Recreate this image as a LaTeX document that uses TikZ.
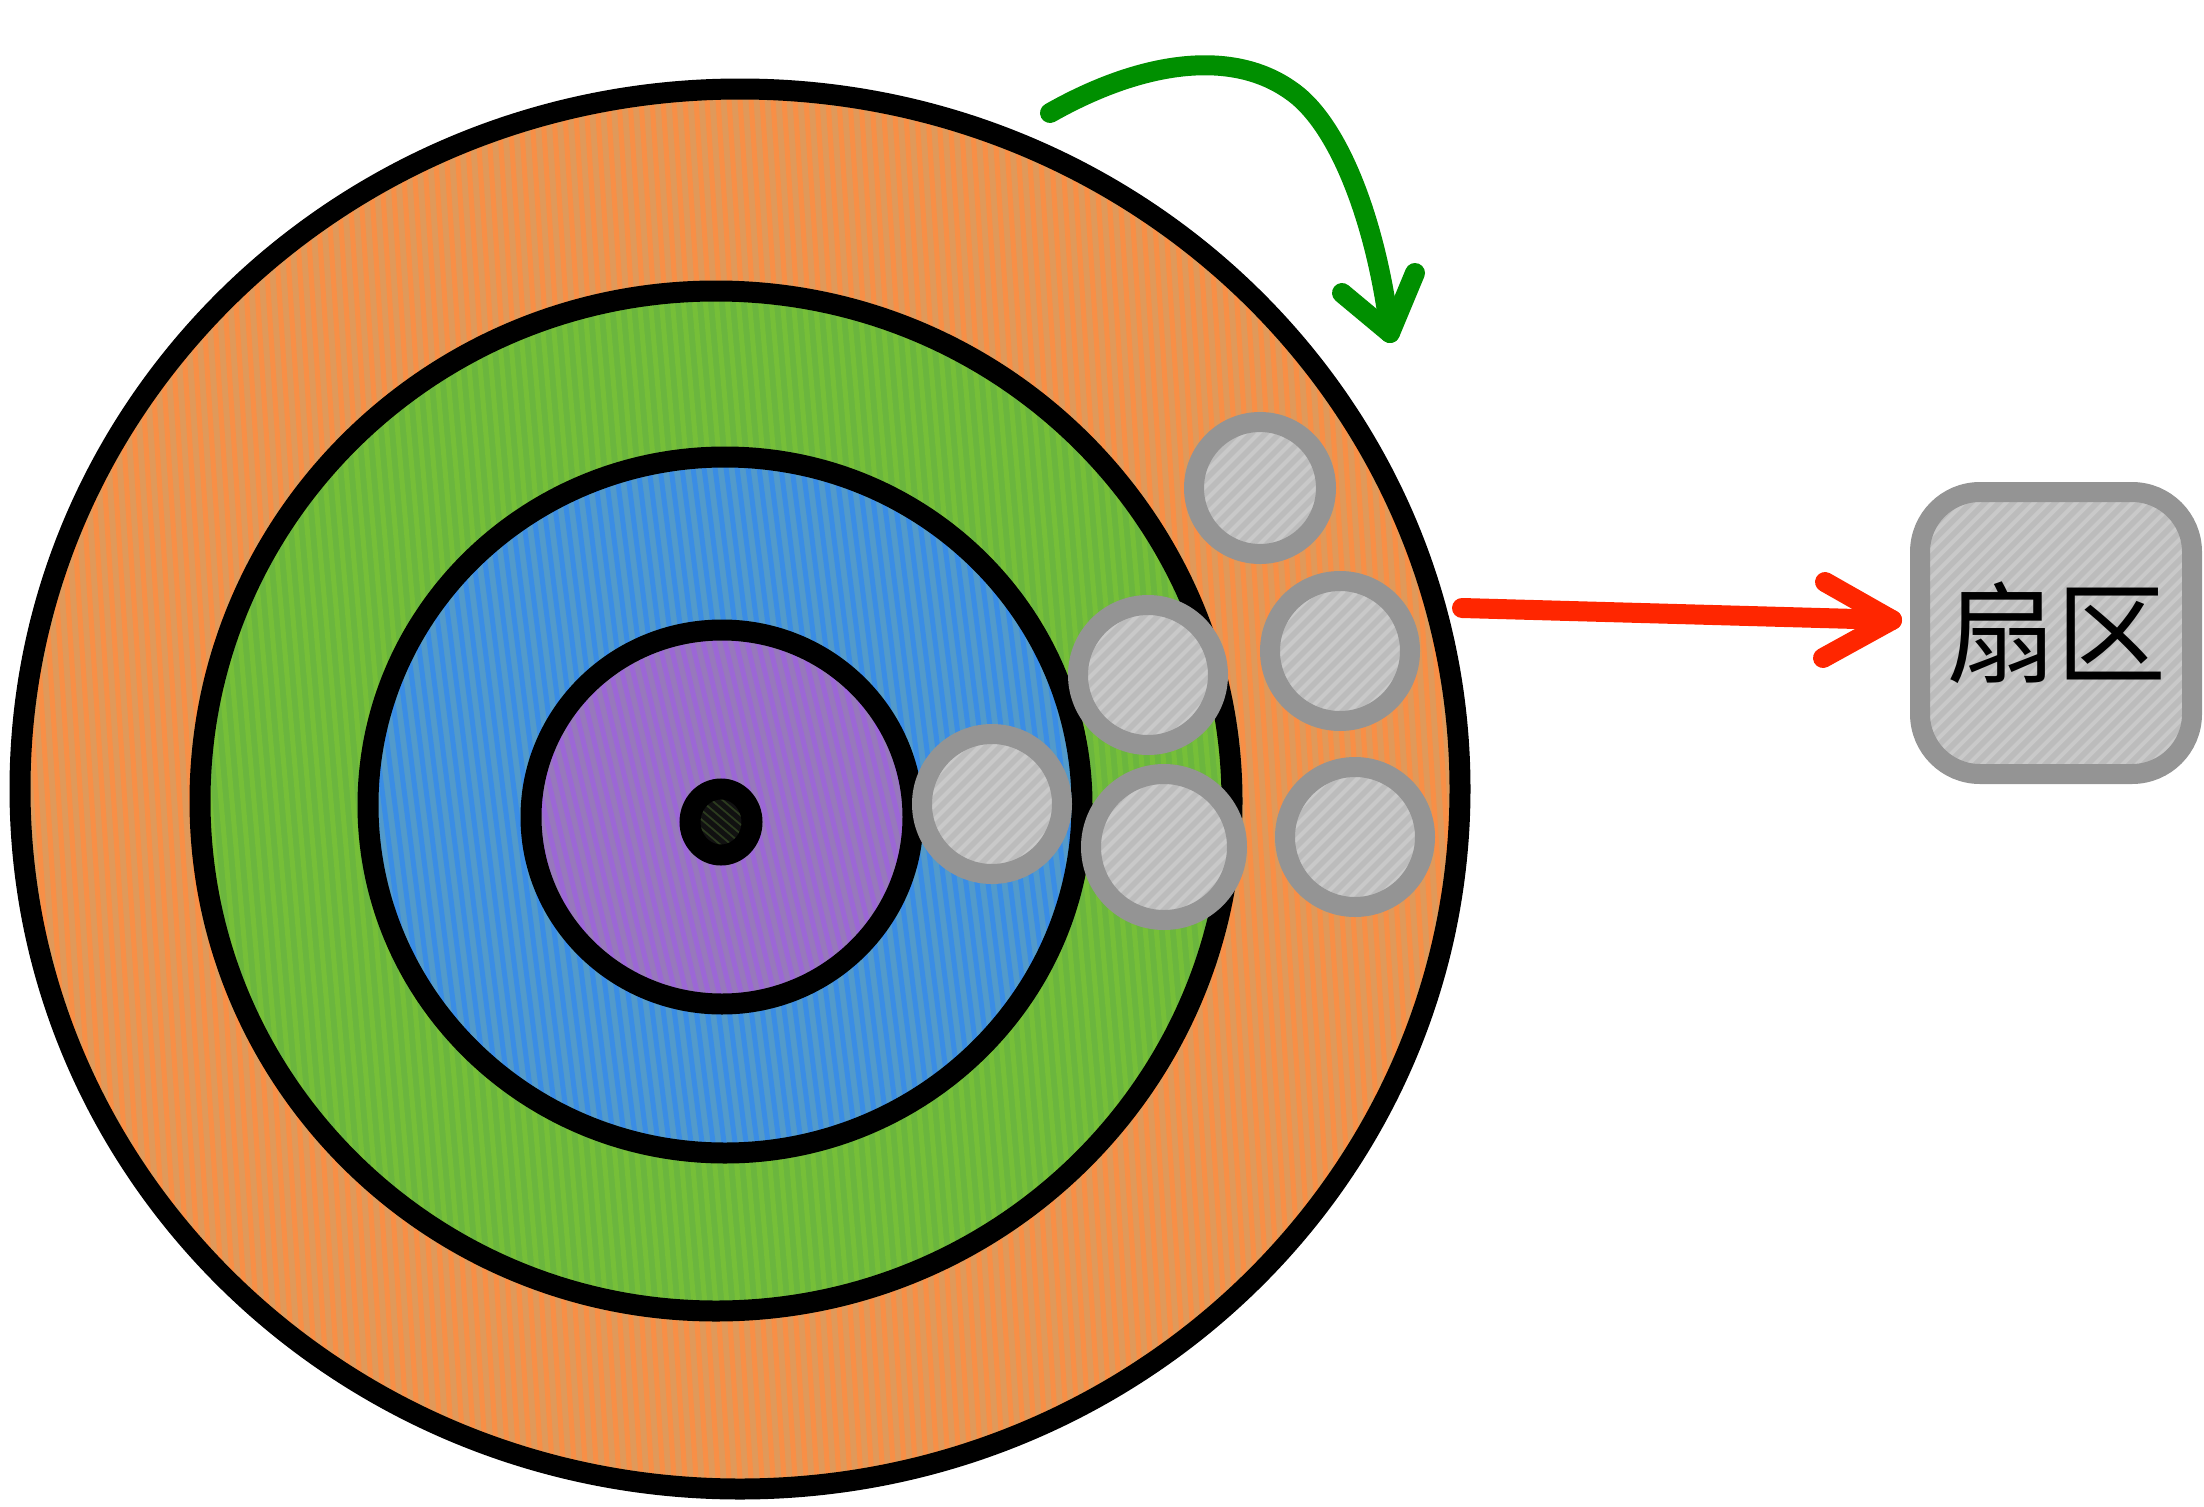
\documentclass[tikz,border=0pt]{standalone}
\usepackage{fontspec}
\newfontfamily\cjk{Noto Sans CJK SC}
\usetikzlibrary{calc}
\definecolor{orA}{HTML}{E0995A}
\definecolor{orB}{HTML}{F88F46}
\definecolor{grA}{HTML}{6BB63E}
\definecolor{grB}{HTML}{76BF38}
\definecolor{blA}{HTML}{529ACB}
\definecolor{blB}{HTML}{3A8DE5}
\definecolor{puA}{HTML}{9778BC}
\definecolor{puB}{HTML}{9C67D6}
\definecolor{ceA}{HTML}{2C3B1F}
\definecolor{ceB}{HTML}{111111}
\definecolor{gyLine}{HTML}{949494}
\definecolor{gyFill}{HTML}{BCBCBC}
\definecolor{gyStripe}{HTML}{C9C9C9}
\definecolor{arrGreen}{HTML}{008F00}
\definecolor{arrRed}{HTML}{FF2600}
\newcommand\hatchell[6]{%
  \begin{scope}
    \clip (#1,#2) ellipse [x radius=#3, y radius=#4];
    \fill[#5] (#1,#2) ellipse [x radius=#3, y radius=#4];
    \begin{scope}[shift={(#1,#2)}]
      \pgfmathtruncatemacro\nn{#3/11+6}
      \foreach \i in {-\nn,...,\nn}
        \draw[#6, line width=5] ({\i*11-45},{-#4-5}) -- ({\i*11+45},{#4+5});
    \end{scope}
  \end{scope}
  \draw[ringline] (#1,#2) ellipse [x radius=#3, y radius=#4];}
\begin{document}
\begin{tikzpicture}[x=1pt,y=-1pt,
  ringline/.style={draw=black, line width=21},
  grayhatch/.style={path picture={
      \begin{scope}[shift={(path picture bounding box.center)}]
        \foreach \i in {-30,...,30}
          \draw[gyStripe, line width=4] ({\i*14-220},220) -- ++(440,-440);
      \end{scope}}},
  sector/.style={circle, draw=gyLine, line width=20, inner sep=0,
      preaction={fill=gyFill, grayhatch}},
  arrowline/.style={line width=20, line cap=round, line join=round}
]
\useasboundingbox (0,0) rectangle (2204,1507);

% rings
\hatchell{740}{789}{720}{700}{orA}{orB}
\hatchell{716}{801}{516}{510}{grA}{grB}
\hatchell{725}{805}{357}{348}{blA}{blB}
\hatchell{722}{817}{191}{187}{puA}{puB}
\hatchell{721}{822}{31}{33}{ceA}{ceB}

% sectors
\node[sector, minimum size=132] (s1) at (1260,488) {};
\node[sector, minimum size=140] (s2) at (1148,675) {};
\node[sector, minimum size=140] (s3) at (1340,651) {};
\node[sector, minimum size=140] (s4) at (992,804) {};
\node[sector, minimum size=146] (s5) at (1164,847) {};
\node[sector, minimum size=140] (s6) at (1355,837) {};

% label box
\node[draw=gyLine, line width=20, rounded corners=60,
      preaction={fill=gyFill, grayhatch},
      minimum width=272, minimum height=282, inner sep=0,
      font=\cjk\fontsize{110}{120}\selectfont] (box) at (2056,633) {扇区};

% red arrow
\coordinate (rs) at (1462,608);
\coordinate (rt) at (1892,620);
\draw[arrRed, arrowline] (rs) -- (rt);
\draw[arrRed, arrowline] ($(rt)+(-67,-38)$) -- (rt) -- ($(rt)+(-69,38)$);

% green arrow
\coordinate (gs) at (1050,113);
\coordinate (gm) at (1290,90);
\coordinate (gt) at (1390,333);
\draw[arrGreen, arrowline] (gs) .. controls (1140,62) and (1230,48) .. (gm)
   .. controls (1338,122) and (1376,220) .. (gt);
\draw[arrGreen, arrowline] ($(gt)+(-48,-40)$) -- (gt) -- ($(gt)+(25,-60)$);
\end{tikzpicture}
\end{document}
